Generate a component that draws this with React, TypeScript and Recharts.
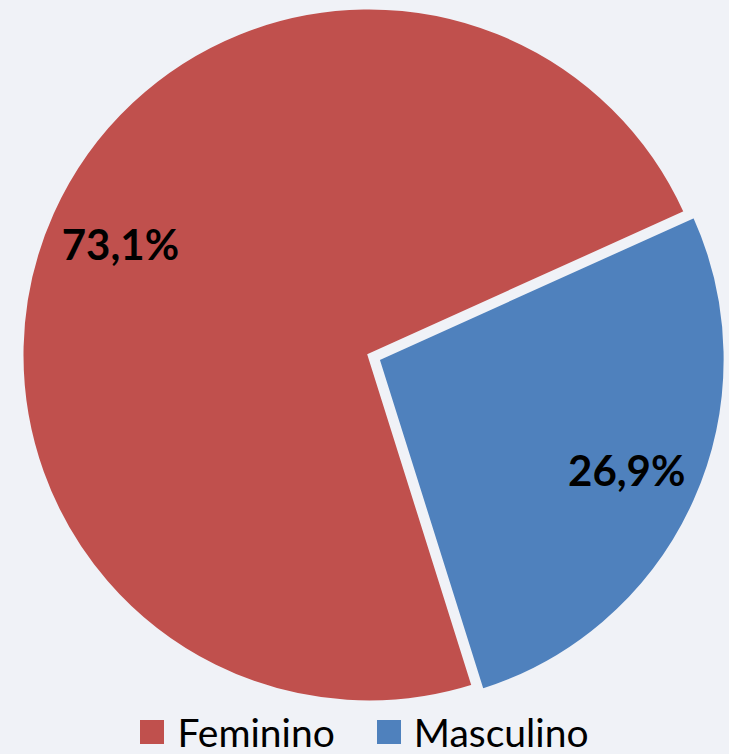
import { PieChart, Pie, Cell, Legend, Sector } from "recharts"

const categories = ["Feminino", "Masculino"]
const shares = [73.1, 26.9]
const colors = ["#c0504d", "#4f81bd"]
const explode = [0, 10]

const data = categories.map((name, i) => ({ name, value: shares[i] }))

const RAD = Math.PI / 180
const bg = "#f0f2f7"
const font = "Lato, 'Open Sans', sans-serif"

const offsetOf = (midAngle: number, idx: number) => ({
  dx: explode[idx] * Math.cos(-midAngle * RAD),
  dy: explode[idx] * Math.sin(-midAngle * RAD),
})

const SliceShape = (props: any) => {
  const { dx, dy } = offsetOf(props.midAngle, props.index ?? categories.indexOf(props.name))
  return <Sector {...props} cx={props.cx + dx} cy={props.cy + dy} />
}

const renderLabel = (props: any) => {
  const { cx, cy, midAngle, outerRadius, index, value } = props
  const { dx, dy } = offsetOf(midAngle, index)
  const r = outerRadius * 0.785
  const x = cx + dx + r * Math.cos(-midAngle * RAD)
  const y = cy + dy + r * Math.sin(-midAngle * RAD)
  return (
    <text
      x={x}
      y={y}
      textAnchor="middle"
      dominantBaseline="central"
      fill="#000"
      fontSize={42}
      fontWeight="bold"
      fontFamily={font}
    >
      {value.toFixed(1).replace(".", ",")}%
    </text>
  )
}

const LegendBox = () => (
  <div style={{ display: "flex", justifyContent: "center", gap: 42, fontFamily: font, fontSize: 39, color: "#000" }}>
    {categories.map((c, i) => (
      <div key={c} style={{ display: "flex", alignItems: "center" }}>
        <span style={{ width: 24, height: 24, background: colors[i], display: "inline-block", marginRight: 13 }} />
        <span style={{ lineHeight: "40px" }}>{c}</span>
      </div>
    ))}
  </div>
)

export default function App() {
  return (
    <div style={{ width: 729, height: 754, background: bg }}>
      <style>{`body{margin:0}`}</style>
      <PieChart width={729} height={754} margin={{ top: 0, right: 0, bottom: 0, left: 0 }}>
        <Pie
          data={data}
          dataKey="value"
          nameKey="name"
          cx={369}
          cy={355}
          outerRadius={347}
          startAngle={24.3}
          endAngle={384.3}
          stroke={bg}
          strokeWidth={3}
          label={renderLabel}
          labelLine={false}
          shape={SliceShape}
          isAnimationActive={false}
        >
          {data.map((d, i) => (
            <Cell key={d.name} fill={colors[i]} />
          ))}
        </Pie>
        <Legend
          content={<LegendBox />}
          wrapperStyle={{ position: "absolute", left: 0, top: 712, width: 729 }}
        />
      </PieChart>
    </div>
  )
}
